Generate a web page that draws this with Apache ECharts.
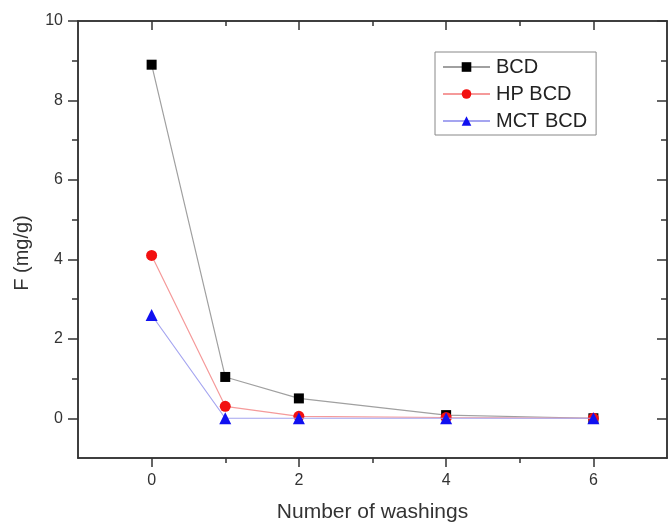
<!DOCTYPE html>
<html><head><meta charset="utf-8">
<script src="https://cdn.jsdelivr.net/npm/echarts@6/dist/echarts.min.js"></script>
<style>html,body{margin:0;padding:0;background:#fff}#c{width:668px;height:525px}</style>
</head><body><div id="c"></div>
<script>
const washings = [0, 1, 2, 4, 6];
const bcd = [8.9, 1.04, 0.5, 0.08, 0.0];
const hpBcd = [4.1, 0.3, 0.05, 0.02, 0.0];
const mctBcd = [2.6, 0.0, 0.0, 0.0, 0.0];
const xMajor = [0, 2, 4, 6];
const xMinor = [1, 3, 5];
const yMajor = [0, 2, 4, 6, 8, 10];
const yMinor = [1, 3, 5, 7, 9];

const pair = v => washings.map((x, i) => [x, v[i]]);
const FONT = 'Liberation Sans, Arial, sans-serif';
const axisCol = '#333';
function ax(pos, ticks, len, inside, labels, range, extra) {
  return Object.assign({
    type: 'value', position: pos, min: range[0], max: range[1],
    axisLine: {show: true, onZero: false, lineStyle: {color: axisCol, width: 1.5}},
    axisTick: {show: true, customValues: ticks, length: len, inside: inside, lineStyle: {color: axisCol, width: 1.5}},
    axisLabel: labels ? {show: true, customValues: ticks, margin: 15, fontSize: 16, color: '#333', fontFamily: FONT} : {show: false},
    splitLine: {show: false}
  }, extra || {});
}
const XR = [-1, 7], YR = [-1, 10];
const chart = echarts.init(document.getElementById('c'));
chart.setOption({
  animation: false,
  backgroundColor: '#fff',
  grid: {left: 78, right: 1, top: 21, bottom: 67, containLabel: false, outerBoundsMode: 'none'},
  xAxis: [
    ax('bottom', xMajor, 9, false, true, XR, {name: 'Number of washings', nameLocation: 'middle', nameGap: 44,
      nameTextStyle: {fontSize: 21, color: '#333', fontFamily: FONT}}),
    ax('bottom', xMinor, 5, false, false, XR),
    ax('top', xMajor, 9, true, false, XR),
    ax('top', xMinor, 5, true, false, XR)
  ],
  yAxis: [
    ax('left', yMajor, 10, false, true, YR),
    ax('left', yMinor, 6, false, false, YR),
    ax('right', yMajor, 10, true, false, YR),
    ax('right', yMinor, 6, true, false, YR)
  ],
  graphic: [{
    type: 'text', x: 22, y: 253, rotation: Math.PI / 2,
    style: {text: 'F (mg/g)', fontSize: 20, fill: '#333', fontFamily: FONT, align: 'center', verticalAlign: 'middle'}
  }],
  legend: {
    left: 435, top: 52, orient: 'vertical',
    itemWidth: 47, itemHeight: 12, itemGap: 7,
    padding: [5, 9, 4, 7],
    borderColor: '#888', borderWidth: 1,
    textStyle: {fontSize: 20, color: '#222', fontFamily: FONT, padding: [0, 0, 0, 1]},
    data: ['BCD', 'HP BCD', 'MCT BCD']
  },
  series: [
    {name: 'BCD', type: 'line', data: pair(bcd), symbol: 'rect', symbolSize: 10,
      lineStyle: {color: '#a0a0a0', width: 1.2}, itemStyle: {color: '#000'}, z: 3},
    {name: 'HP BCD', type: 'line', data: pair(hpBcd), symbol: 'circle', symbolSize: 11,
      lineStyle: {color: '#f59a9a', width: 1.2}, itemStyle: {color: '#f21010'}, z: 4},
    {name: 'MCT BCD', type: 'line', data: pair(mctBcd), symbol: 'triangle', symbolSize: 12,
      lineStyle: {color: '#a5a5f0', width: 1.2}, itemStyle: {color: '#1010f0'}, z: 5}
  ]
});
</script></body></html>
